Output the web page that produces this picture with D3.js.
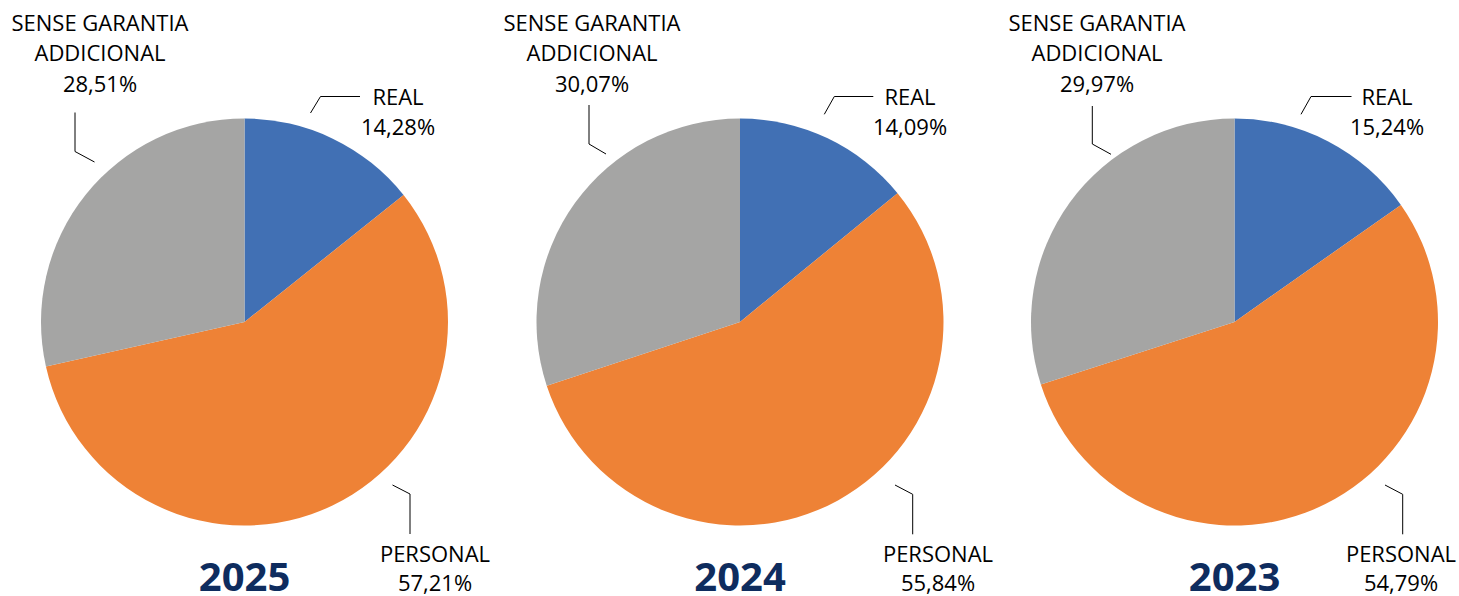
<!DOCTYPE html>
<html>
<head>
<meta charset="utf-8">
<script src="https://cdn.jsdelivr.net/npm/d3@7"></script>
<style>
  html, body { margin: 0; padding: 0; background: #fff; }
  text { font-family: "Open Sans", "Noto Sans", sans-serif; }
</style>
</head>
<body>
<svg width="1459" height="596"></svg>
<script>
// data
const years = ["2025", "2024", "2023"];
const categories = ["REAL", "PERSONAL", "SENSE GARANTIA ADDICIONAL"];
const real = [14.28, 14.09, 15.24];
const personal = [57.21, 55.84, 54.79];
const senseGarantia = [28.51, 30.07, 29.97];

const colors = ["#4170B4", "#EE8236", "#A5A5A4"];

// layout (label/leader offsets relative to each pie centre)
const centersX = [244.5, 740, 1234.5];
const cy = 322, radius = 203.5;
const labelLayout = [
  { // 2025
    real: { tx: 153.5, leader: [[66, -209], [76, -225.5], [115.5, -225.5]] },
    personal: { tx: 190.5, leader: [[148, 163], [165.5, 172], [165.5, 212]] },
    sense: { tx: -144.5, leader: [[-150, -160], [-169.5, -170.5], [-169.5, -209.5]] }
  },
  { // 2024
    real: { tx: 170, leader: [[84.3, -207.7], [94.3, -225.5], [133.3, -225.5]] },
    personal: { tx: 198, leader: [[155, 163], [172.7, 172.3], [172.7, 212.3]] },
    sense: { tx: -148, leader: [[-134, -168], [-151, -178], [-151, -217]] }
  },
  { // 2023
    real: { tx: 152.5, leader: [[66.5, -207.7], [76.5, -225.5], [117, -225.5]] },
    personal: { tx: 166.5, leader: [[150.5, 163], [168.2, 172.3], [168.2, 212.3]] },
    sense: { tx: -137.5, leader: [[-123.5, -167.7], [-142.2, -178], [-142.2, -216]] }
  }
];

const fmt = v => d3.format(".2f")(v).replace(".", ",") + "%";

const svg = d3.select("svg");
const pie = d3.pie().sort(null).value(d => d.value);
const arc = d3.arc().innerRadius(0).outerRadius(radius);
const line = d3.line();

years.forEach((year, i) => {
  const values = [
    { key: "real", name: categories[0], value: real[i] },
    { key: "personal", name: categories[1], value: personal[i] },
    { key: "sense", name: categories[2], value: senseGarantia[i] }
  ];
  const cx = centersX[i];
  const g = svg.append("g").attr("transform", `translate(${cx},${cy})`);

  g.selectAll("path.slice")
    .data(pie(values))
    .enter().append("path")
    .attr("class", "slice")
    .attr("d", arc)
    .attr("fill", (d, j) => colors[j]);

  const lay = labelLayout[i];

  // leader lines
  values.forEach(v => {
    g.append("path")
      .attr("d", line(lay[v.key].leader))
      .attr("fill", "none")
      .attr("stroke", "#000")
      .attr("stroke-width", 1);
  });

  // labels
  const lab = (x, y, txt) => g.append("text")
    .attr("x", x).attr("y", y)
    .attr("text-anchor", "middle")
    .attr("font-size", 22)
    .attr("fill", "#000")
    .text(txt);

  lab(lay.real.tx, 105 - cy, "REAL");
  lab(lay.real.tx, 135 - cy, fmt(real[i]));

  lab(lay.personal.tx, 562 - cy, "PERSONAL");
  lab(lay.personal.tx, 591 - cy, fmt(personal[i]));

  lab(lay.sense.tx, 31 - cy, "SENSE GARANTIA");
  lab(lay.sense.tx, 61 - cy, "ADDICIONAL");
  lab(lay.sense.tx, 92 - cy, fmt(senseGarantia[i]));

  // year
  g.append("text")
    .attr("x", 0).attr("y", 591 - cy)
    .attr("text-anchor", "middle")
    .attr("font-size", 40)
    .attr("font-weight", "bold")
    .attr("fill", "#0E2C5E")
    .text(year);
});
</script>
</body>
</html>
